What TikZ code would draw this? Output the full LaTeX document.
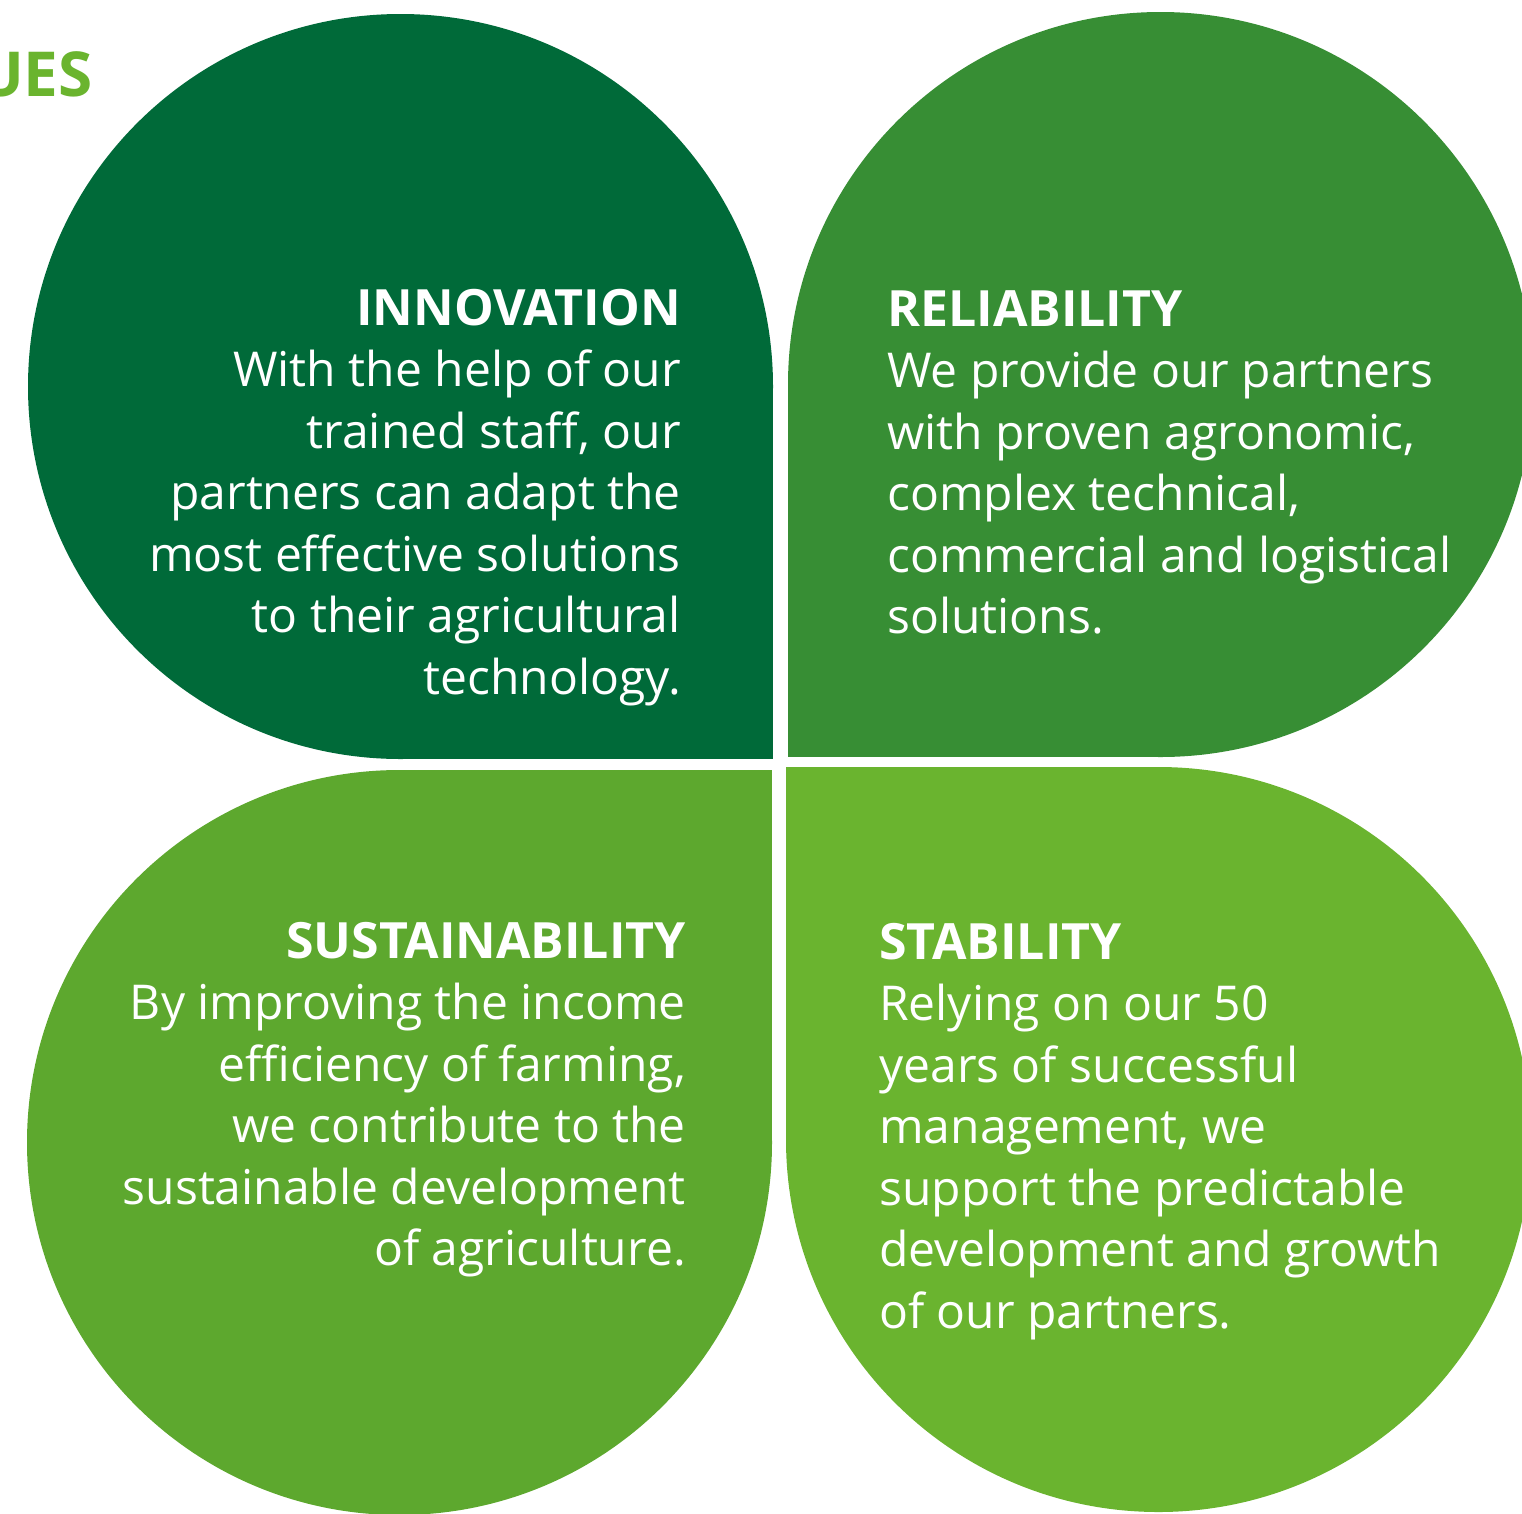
\documentclass[tikz,border=0pt]{standalone}
\usepackage{fontspec}
\setmainfont{Open Sans}
\definecolor{cInno}{HTML}{006A39}
\definecolor{cReli}{HTML}{378E34}
\definecolor{cSust}{HTML}{5DA82E}
\definecolor{cStab}{HTML}{6AB42F}
\definecolor{cTitle}{HTML}{6AB42E}
\newcommand{\pethead}[1]{{\fontsize{50}{61.5}\selectfont\bfseries #1}}
\tikzset{
  petaltext/.style={inner sep=0pt, text=white, font=\fontsize{48}{61.5}\selectfont},
}
\begin{document}
\begin{tikzpicture}[x=1pt,y=-1pt]
\useasboundingbox (0,0) rectangle (1522,1513);
\clip (0,0) rectangle (1522,1513);
% INNOVATION petal
\fill[cInno] (400.5,386.5) circle[radius=372.5];
\fill[cInno] (400.5,386.5) rectangle (773,759);
% RELIABILITY petal
\fill[cReli] (1160.5,384.5) circle[radius=372.5];
\fill[cReli] (788,384.5) rectangle (1160.5,757);
% SUSTAINABILITY petal
\fill[cSust] (399.5,1142.5) circle[radius=372.5];
\fill[cSust] (399.5,770) rectangle (772,1142.5);
% STABILITY petal
\fill[cStab] (1158.5,1139.5) circle[radius=372.5];
\fill[cStab] (786,767) rectangle (1158.5,1139.5);
% title fragment
\node[inner sep=0pt, anchor=base east, text=cTitle, font=\fontsize{62}{70}\selectfont\bfseries] (title) at (93,96) {UES};
% texts
\node[petaltext, align=right, anchor=north east] (inno) at (681,289)
  {\pethead{INNOVATION}\\With the help of our\\trained staff, our\\partners can adapt the\\most effective solutions\\to their agricultural\\technology.};
\node[petaltext, align=left, anchor=north west] (reli) at (887,290)
  {\pethead{RELIABILITY}\\We provide our partners\\with proven agronomic,\\complex technical,\\commercial and logistical\\solutions.};
\node[petaltext, align=right, anchor=north east] (sust) at (686,922)
  {\pethead{SUSTAINABILITY}\\By improving the income\\efficiency of farming,\\we contribute to the\\sustainable development\\of agriculture.};
\node[petaltext, align=left, anchor=north west] (stab) at (879,923)
  {\pethead{STABILITY}\\Relying on our 50\\years of successful\\management, we\\support the predictable\\development and growth\\of our partners.};
\end{tikzpicture}
\end{document}
